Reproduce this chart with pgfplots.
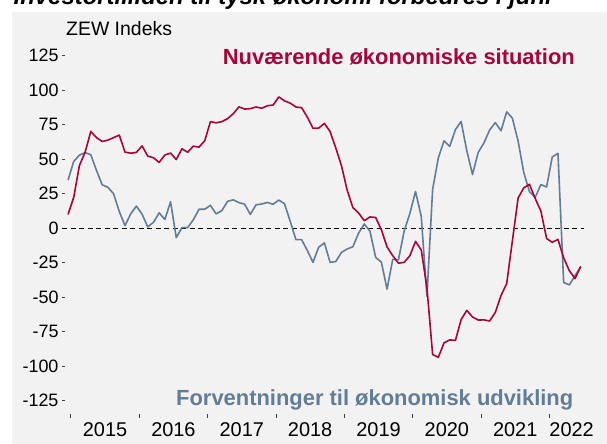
\documentclass[border=0pt]{standalone}
\usepackage{fontspec}
\setmainfont{Liberation Sans}
\usepackage{pgfplots}
\pgfplotsset{compat=1.18}
\definecolor{zewred}{HTML}{A6053A}
\definecolor{zewblue}{HTML}{627D95}
\definecolor{bggrey}{HTML}{F2F2F2}
\begin{document}
\begin{tikzpicture}
\useasboundingbox (-65bp,-30bp) rectangle (542bp,414bp);
\fill[bggrey] (-53bp,-30bp) rectangle (542bp,402bp);
\node[anchor=base west, inner sep=0pt, font=\fontsize{24}{24}\selectfont\bfseries\itshape] at (-51.5bp,409bp) {Investortilliden til tysk økonomi forbedres i juni};
\begin{axis}[
  at={(0,0)}, anchor=south west,
  scale only axis, width=519bp, height=372bp,
  xmin=-0.53, xmax=90.57, ymin=-134.6, ymax=135,
  axis line style={draw=none},
  tick align=outside, tick pos=left,
  xtick={6.5,18.5,30.5,42.5,54.5,66.5,78.5,88.4},
  xticklabels={2015,2016,2017,2018,2019,2020,2021,2022},
  minor xtick={0.5,12.5,24.5,36.5,48.5,60.5,72.5,84.5},
  major x tick style={draw=none},
  minor x tick style={black!75, line width=0.8bp},
  minor tick length=4bp,
  ytick={-125,-100,-75,-50,-25,0,25,50,75,100,125},
  yticklabels={-125,-100,-75,-50,-25,0,25,50,75,100,125},
  major y tick style={black!75, line width=0.8bp},
  major tick length=3bp,
  xticklabel style={font=\fontsize{20}{20}\selectfont, text=black, yshift=-2bp},
  yticklabel style={font=\fontsize{18}{18}\selectfont, text=black},
  /pgf/number format/assume math mode=true,
  clip=false,
]
\addplot[black, line width=1.2bp, dash pattern=on 5bp off 3.5bp] coordinates {(-1.05,0) (90.57,0)};
% Expectations (blue), Dec 2014 .. Jun 2022
\addplot[zewblue, line width=1.6bp, line join=round] coordinates {
(0,34.9)
(1,48.4)(2,53.0)(3,54.8)(4,53.3)(5,41.9)(6,31.5)(7,29.7)(8,25.0)(9,12.1)(10,1.9)(11,10.4)(12,16.1)
(13,10.2)(14,1.0)(15,4.3)(16,11.2)(17,6.4)(18,19.2)(19,-6.8)(20,0.5)(21,0.5)(22,6.2)(23,13.8)(24,13.8)
(25,16.6)(26,10.4)(27,12.8)(28,19.5)(29,20.6)(30,18.6)(31,17.5)(32,10.0)(33,17.0)(34,17.6)(35,18.7)(36,17.4)
(37,20.4)(38,17.8)(39,5.1)(40,-8.2)(41,-8.2)(42,-16.1)(43,-24.7)(44,-13.7)(45,-10.6)(46,-24.7)(47,-24.1)(48,-17.5)
(49,-15.0)(50,-13.4)(51,-3.6)(52,3.1)(53,-2.1)(54,-21.1)(55,-24.5)(56,-44.1)(57,-22.5)(58,-22.8)(59,-2.1)(60,10.7)
(61,26.7)(62,8.7)(63,-49.5)(64,28.2)(65,51.0)(66,63.4)(67,59.3)(68,71.5)(69,77.4)(70,56.1)(71,39.0)(72,55.0)
(73,61.8)(74,71.2)(75,76.6)(76,70.7)(77,84.4)(78,79.8)(79,63.3)(80,40.4)(81,26.5)(82,22.3)(83,31.7)(84,29.9)
(85,51.7)(86,54.3)(87,-39.3)(88,-41.0)(89,-34.3)(90,-28.0)
};
% Current situation (red)
\addplot[zewred, line width=1.6bp, line join=round] coordinates {
(0,10.0)
(1,22.4)(2,45.5)(3,55.1)(4,70.2)(5,65.7)(6,62.9)(7,63.9)(8,65.7)(9,67.5)(10,55.2)(11,54.4)(12,55.0)
(13,59.7)(14,52.3)(15,51.1)(16,47.7)(17,53.1)(18,54.5)(19,49.8)(20,57.6)(21,55.1)(22,59.5)(23,58.8)(24,63.5)
(25,77.3)(26,76.4)(27,77.3)(28,79.4)(29,83.0)(30,88.0)(31,86.4)(32,86.7)(33,87.9)(34,87.0)(35,88.8)(36,89.3)
(37,95.2)(38,92.3)(39,90.7)(40,87.9)(41,87.4)(42,80.6)(43,72.4)(44,72.6)(45,76.0)(46,70.1)(47,58.2)(48,45.3)
(49,27.6)(50,15.0)(51,11.1)(52,5.5)(53,8.2)(54,7.8)(55,-1.1)(56,-13.5)(57,-19.9)(58,-25.3)(59,-24.7)(60,-19.9)
(61,-9.5)(62,-15.7)(63,-43.1)(64,-91.5)(65,-93.5)(66,-83.1)(67,-80.9)(68,-81.3)(69,-66.2)(70,-59.5)(71,-64.3)(72,-66.5)
(73,-66.4)(74,-67.2)(75,-61.0)(76,-48.8)(77,-40.1)(78,-9.1)(79,21.9)(80,29.3)(81,31.9)(82,21.6)(83,12.5)(84,-7.4)
(85,-10.2)(86,-8.1)(87,-21.4)(88,-30.8)(89,-36.5)(90,-27.6)
};
\end{axis}
\node[anchor=base west, inner sep=0pt, font=\fontsize{19.5}{19.5}\selectfont] at (1bp,378bp) {ZEW Indeks};
\node[anchor=base west, inner sep=0pt, text=zewred, font=\fontsize{22}{22}\selectfont\bfseries] at (157.7bp,349bp) {Nuværende økonomiske situation};
\node[anchor=base west, inner sep=0pt, text=zewblue, font=\fontsize{22}{22}\selectfont\bfseries] at (111bp,8.3bp) {Forventninger til økonomisk udvikling};
\end{tikzpicture}
\end{document}
